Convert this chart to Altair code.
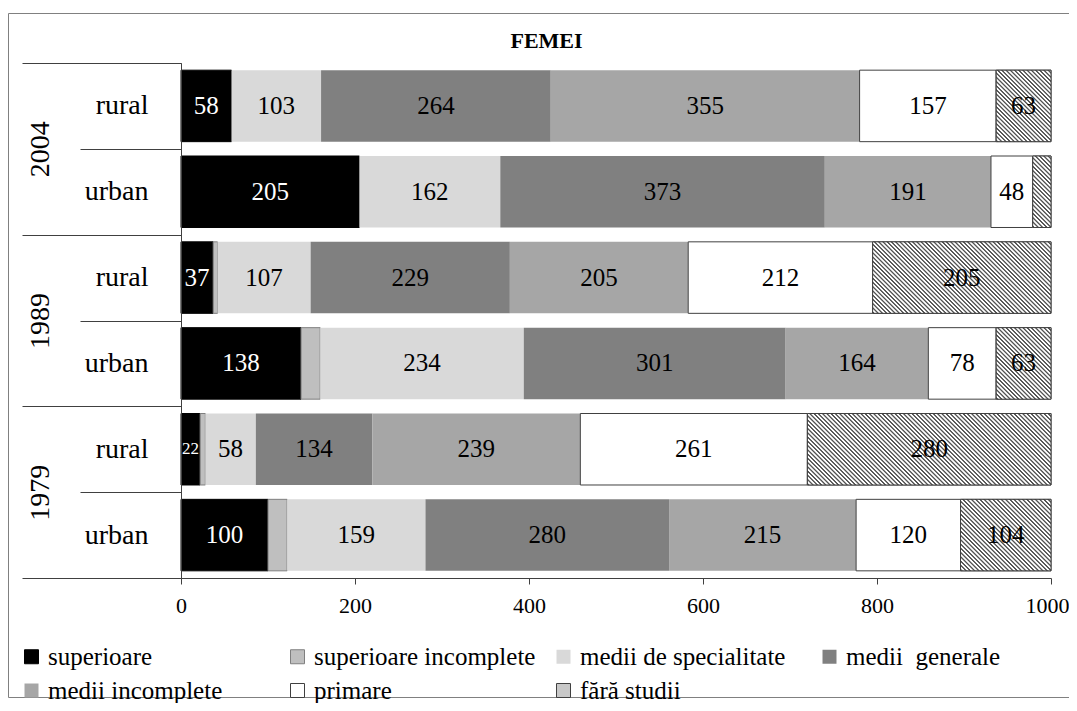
import math
import altair as alt
import pandas as pd

# ---------------- data ----------------
rows = ["2004 rural", "2004 urban", "1989 rural", "1989 urban", "1979 rural", "1979 urban"]
years = ["2004", "1989", "1979"]
categories = ["superioare", "superioare incomplete", "medii de specialitate",
              "medii\u00a0 generale", "medii incomplete", "primare", "fără studii"]
superioare = [58, 205, 37, 138, 22, 100]
superioare_incomplete = [0, 0, 5, 22, 6, 22]
medii_specialitate = [103, 162, 107, 234, 58, 159]
medii_generale = [264, 373, 229, 301, 134, 280]
medii_incomplete = [355, 191, 205, 164, 239, 215]
primare = [157, 48, 212, 78, 261, 120]
fara_studii = [63, 21, 205, 63, 280, 104]
hidden_labels = [("2004 urban", "fără studii")]
x_ticks = [0, 200, 400, 600, 800, 1000]
chart_title = "FEMEI"

series = [superioare, superioare_incomplete, medii_specialitate, medii_generale,
          medii_incomplete, primare, fara_studii]

# ---------------- styles ----------------
fills = ["#000000", "#bfbfbf", "#d9d9d9", "#808080", "#a6a6a6", "#ffffff", "#c8c8c8"]
strokes = ["#000000", "#7f7f7f", "transparent", "transparent", "transparent", "#404040", "#404040"]
FONT = "Liberation Serif, Times New Roman, serif"
W, H = 1061, 684
X0, X1 = 173, 1043
Y0, Y1 = 50, 565
BAND = 0.833
px_per_unit = (X1 - X0) / 1000.0
bar_h = (Y1 - Y0) / len(rows) * BAND


def hatch(w, h, period=3.0, color="#555555"):
    """Diagonal '\\' hatch as a linear gradient in bounding-box units."""
    q = h / w
    s = (1 + q) / (1 + q * q)
    n = max(1, int(round((w + h) / math.sqrt(2) / period)))
    stops = []
    for k in range(n):
        a = k / n
        stops.append({"offset": round(a, 6), "color": "#ffffff"})
        stops.append({"offset": round(a + 0.2 / n, 6), "color": color})
        stops.append({"offset": round(a + 0.45 / n, 6), "color": color})
        stops.append({"offset": round(a + 0.65 / n, 6), "color": "#ffffff"})
    stops.append({"offset": 1, "color": "#ffffff"})
    return {"gradient": "linear", "x1": 0, "y1": 1, "x2": round(s, 6),
            "y2": round(1 - s * q, 6), "stops": stops}


# ---------------- table ----------------
recs = []
for i, r in enumerate(rows):
    cum = 0
    for c, vals in zip(categories, series):
        v = vals[i]
        if v > 0:
            recs.append({
                "row": r, "category": c, "value": v,
                "start": cum, "end": cum + v, "mid": cum + v / 2,
                "show": (c != "superioare incomplete") and ((r, c) not in hidden_labels),
            })
        cum += v
df = pd.DataFrame(recs)

xscale = alt.Scale(domain=[0, 1000], range=[X0, X1], nice=False, zero=False)
yscale = alt.Scale(domain=rows, range=[Y0, Y1], paddingInner=0, paddingOuter=0)

row_axis = alt.Axis(orient="left", offset=-X0, tickBand="extent", tickSize=101,
                    labelPadding=-68, labelAlign="right", labelBaseline="middle",
                    labelExpr="split(datum.label, ' ')[1]", labelFontSize=28,
                    labelFont=FONT, labelColor="black",
                    domainColor="#404040", tickColor="#404040", title=None, zindex=1)
year_axis = alt.Axis(orient="left", offset=-X0, tickBand="extent", tickSize=159,
                     labelPadding=-18, labelAngle=270, labelAlign="center",
                     labelBaseline="middle", labelFontSize=28, domain=False,
                     labelFont=FONT, labelColor="black",
                     tickColor="#404040", zindex=1,
                     title=chart_title, titleAngle=0, titleAlign="center",
                     titleBaseline="alphabetic", titleX=365, titleY=34,
                     titleFont=FONT, titleFontSize=22, titleFontWeight="bold",
                     titleColor="black")
x_axis = alt.Axis(values=x_ticks, offset=-(H - Y1), tickSize=6, labelPadding=11,
                  labelFontSize=22, labelFlush=False, domainColor="#404040",
                  labelFont=FONT, labelColor="black",
                  labelOffset={"condition": {"test": "datum.value === 1000", "value": -4},
                               "value": 0},
                  tickColor="#404040", grid=False, title=None, format="d")

legend_kw = dict(title=None, orient="none", legendX=11, legendY=631, columns=4,
                 direction="horizontal",
                 gridAlign="all", columnPadding=15, rowPadding=8, symbolType="square",
                 symbolSize=196, symbolStrokeWidth=1, labelFont=FONT, labelFontSize=25,
                 labelOffset=4, labelLimit=400, labelColor="black", padding=0)

base = alt.Chart(df)
X = alt.X("start:Q", scale=xscale, axis=x_axis)
Y = alt.Y("row:N", scale=yscale, axis=row_axis)

bars = base.mark_bar(strokeWidth=1, height={"band": BAND}).encode(
    x=X,
    x2="end:Q",
    y=Y,
    color=alt.Color("category:N", scale=alt.Scale(domain=categories, range=fills),
                    legend=alt.Legend(**legend_kw)),
    stroke=alt.Stroke("category:N", scale=alt.Scale(domain=categories, range=strokes),
                      legend=alt.Legend(**legend_kw)),
)

hatch_layers = []
for i, r in enumerate(rows):
    v = fara_studii[i]
    if v <= 0:
        continue
    g = hatch(v * px_per_unit, bar_h)
    hatch_layers.append(
        base.transform_filter((alt.datum.row == r) & (alt.datum.category == "fără studii"))
        .mark_bar(fill=g, stroke="#404040", strokeWidth=1, height={"band": BAND})
        .encode(x=X, x2="end:Q", y=Y)
    )

texts = base.transform_filter(alt.datum.show == True).mark_text(
    font=FONT, align="center", baseline="middle").encode(
    x=alt.X("mid:Q", scale=xscale, axis=x_axis),
    y=Y,
    text=alt.Text("value:Q"),
    color=alt.condition(alt.datum.category == "superioare", alt.value("white"), alt.value("black")),
    size=alt.condition(alt.datum.value < 30, alt.value(17), alt.value(25)),
)

year_layer = alt.Chart(pd.DataFrame({"year": years})).mark_rule(strokeOpacity=0).encode(
    y=alt.Y("year:N", scale=alt.Scale(domain=years, range=[Y0, Y1], paddingInner=0,
                                      paddingOuter=0), axis=year_axis)
)

inner = alt.layer(bars, *hatch_layers, texts)
chart = alt.layer(inner, year_layer).resolve_scale(y="independent").properties(
    width=W, height=H,
    autosize=alt.AutoSizeParams(type="none"),
    padding={"left": 0, "right": 0, "top": 5, "bottom": 6},
).configure(font=FONT).configure_view(stroke="#808080", strokeWidth=1).configure_axis(
    labelFont=FONT, labelColor="black"
).configure_legend(labelFont=FONT).configure_text(font=FONT)

chart.save("out.html", embed_options={"renderer": "svg", "actions": False})
